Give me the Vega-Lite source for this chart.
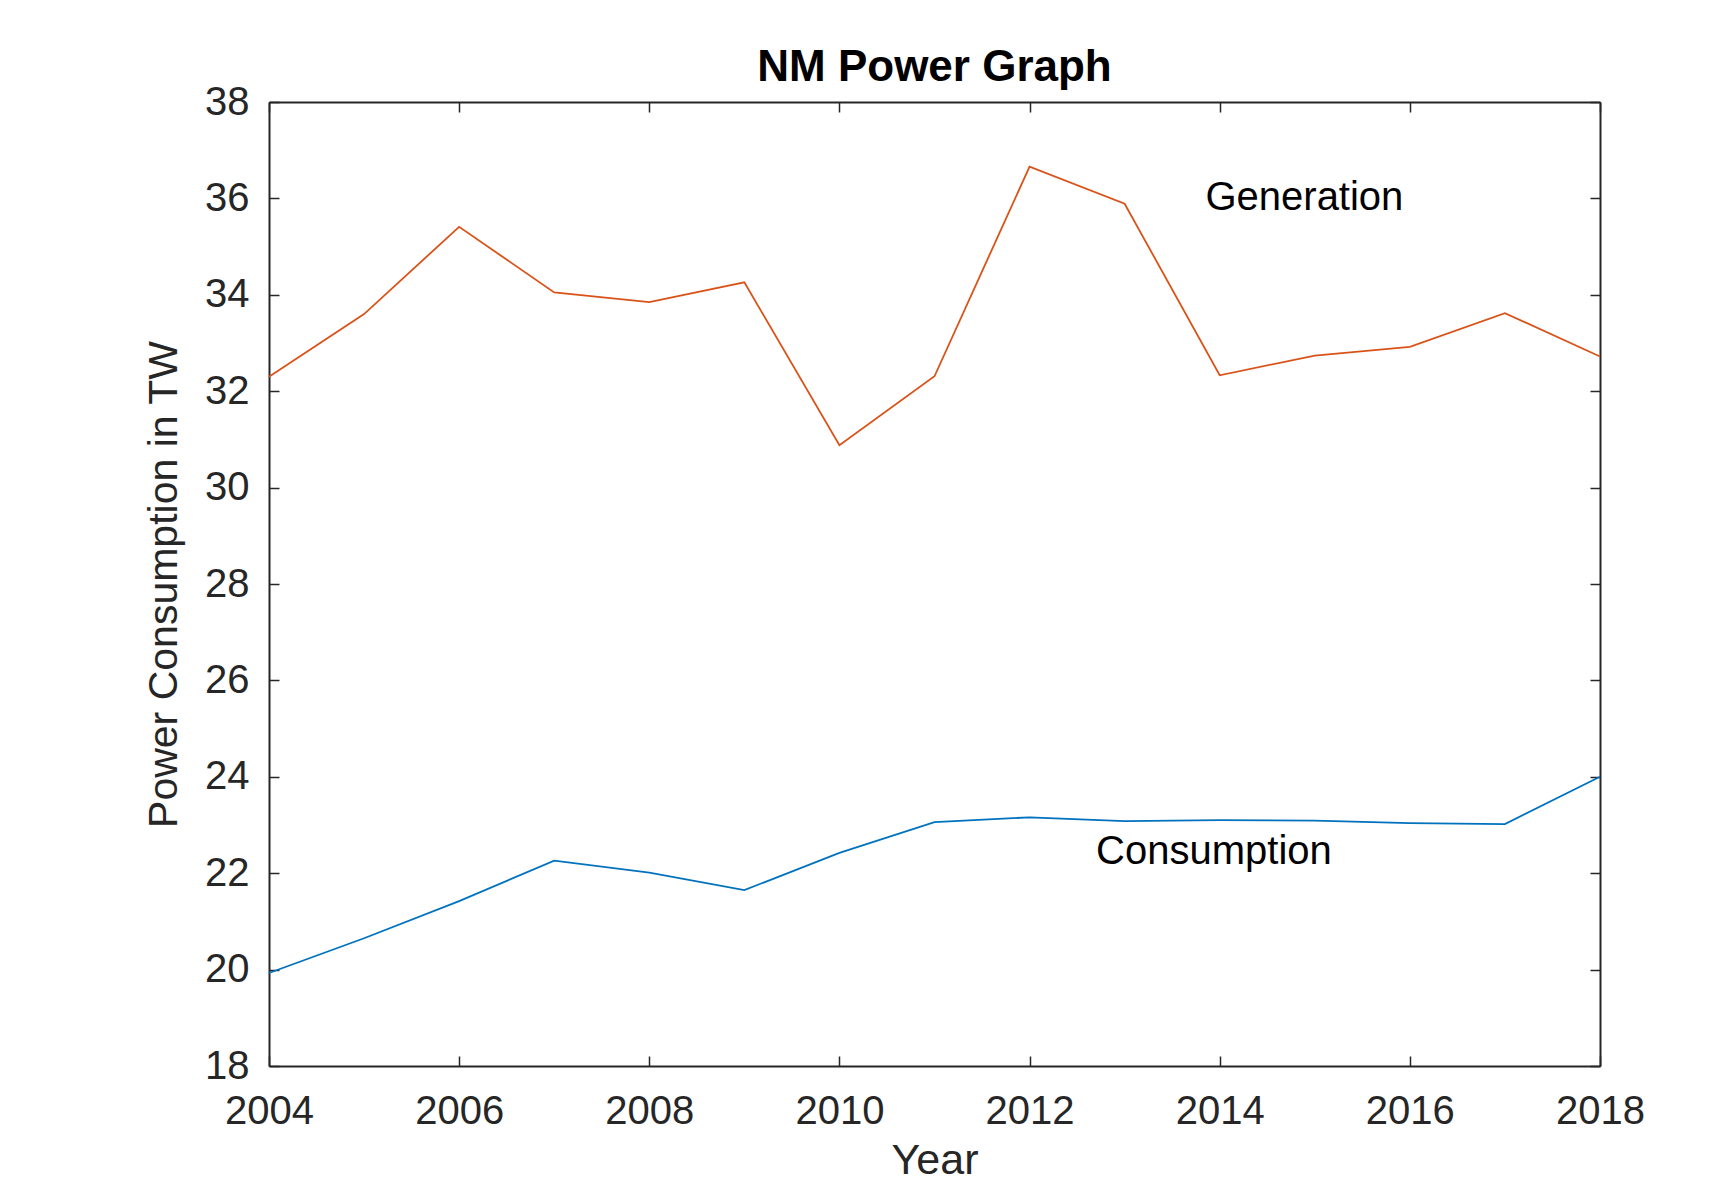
{
  "$schema": "https://vega.github.io/schema/vega-lite/v6.json",
  "width": 1331,
  "height": 964,
  "autosize": {"type": "none"},
  "padding": {"left": 269, "top": 102, "right": 114, "bottom": 118},
  "background": "white",
  "config": {
    "font": "Liberation Sans",
    "view": {"stroke": null},
    "axis": {
      "grid": false,
      "domainColor": "#262626",
      "domainWidth": 2,
      "tickColor": "#262626",
      "tickWidth": 1.5,
      "tickSize": -10,
      "labelColor": "#262626",
      "labelFont": "Liberation Sans",
      "labelFontSize": 40,
      "labelOverlap": false,
      "labelBound": false,
      "labelFlush": false,
      "titleFont": "Liberation Sans",
      "titleFontSize": 41,
      "titleFontWeight": "normal",
      "titleColor": "#262626"
    }
  },
  "title": {
    "text": "NM Power Graph",
    "font": "Liberation Sans",
    "fontSize": 44,
    "fontWeight": "bold",
    "color": "#000000",
    "anchor": "middle",
    "frame": "group",
    "baseline": "alphabetic",
    "offset": 18,
    "dy": 61
  },
  "datasets": {
    "power": [
      {"year": 2004, "series": "Generation", "value": 32.3},
      {"year": 2005, "series": "Generation", "value": 33.6},
      {"year": 2006, "series": "Generation", "value": 35.41},
      {"year": 2007, "series": "Generation", "value": 34.05},
      {"year": 2008, "series": "Generation", "value": 33.85},
      {"year": 2009, "series": "Generation", "value": 34.26},
      {"year": 2010, "series": "Generation", "value": 30.88},
      {"year": 2011, "series": "Generation", "value": 32.31},
      {"year": 2012, "series": "Generation", "value": 36.66},
      {"year": 2013, "series": "Generation", "value": 35.89},
      {"year": 2014, "series": "Generation", "value": 32.33},
      {"year": 2015, "series": "Generation", "value": 32.74},
      {"year": 2016, "series": "Generation", "value": 32.92},
      {"year": 2017, "series": "Generation", "value": 33.62},
      {"year": 2018, "series": "Generation", "value": 32.72},
      {"year": 2004, "series": "Consumption", "value": 19.93},
      {"year": 2005, "series": "Consumption", "value": 20.65},
      {"year": 2006, "series": "Consumption", "value": 21.42},
      {"year": 2007, "series": "Consumption", "value": 22.26},
      {"year": 2008, "series": "Consumption", "value": 22.01},
      {"year": 2009, "series": "Consumption", "value": 21.65},
      {"year": 2010, "series": "Consumption", "value": 22.42},
      {"year": 2011, "series": "Consumption", "value": 23.06},
      {"year": 2012, "series": "Consumption", "value": 23.16},
      {"year": 2013, "series": "Consumption", "value": 23.08},
      {"year": 2014, "series": "Consumption", "value": 23.1},
      {"year": 2015, "series": "Consumption", "value": 23.09},
      {"year": 2016, "series": "Consumption", "value": 23.04},
      {"year": 2017, "series": "Consumption", "value": 23.02},
      {"year": 2018, "series": "Consumption", "value": 24.0}
    ]
  },
  "layer": [
    {
      "data": {"name": "power"},
      "mark": {"type": "line", "strokeWidth": 1.8},
      "encoding": {
        "x": {
          "field": "year", "type": "quantitative",
          "scale": {"domain": [2004, 2018], "nice": false, "zero": false},
          "axis": {"orient": "bottom", "title": "Year", "titleFontSize": 43, "values": [2004, 2006, 2008, 2010, 2012, 2014, 2016, 2018], "format": "d", "labelPadding": 35, "titlePadding": 8}
        },
        "y": {
          "field": "value", "type": "quantitative",
          "scale": {"domain": [18, 38], "nice": false, "zero": false},
          "axis": {"orient": "left", "title": "Power Consumption in TW", "values": [18, 20, 22, 24, 26, 28, 30, 32, 34, 36, 38], "labelPadding": 30, "titlePadding": 19}
        },
        "color": {
          "field": "series", "type": "nominal",
          "scale": {"domain": ["Consumption", "Generation"], "range": ["#0072BD", "#D95319"]},
          "legend": null
        }
      }
    },
    {
      "data": {"values": [{}]},
      "mark": {"type": "text", "text": "Generation", "align": "left", "baseline": "middle", "fontSize": 40, "color": "#000000", "font": "Liberation Sans"},
      "encoding": {
        "x": {"datum": 2013.85, "type": "quantitative", "axis": {"orient": "top", "labels": false, "title": null, "values": [2004, 2006, 2008, 2010, 2012, 2014, 2016, 2018]}},
        "y": {"datum": 36, "type": "quantitative", "axis": {"orient": "right", "labels": false, "title": null, "values": [18, 20, 22, 24, 26, 28, 30, 32, 34, 36, 38]}}
      }
    },
    {
      "data": {"values": [{}]},
      "mark": {"type": "text", "text": "Consumption", "align": "left", "baseline": "middle", "fontSize": 40, "color": "#000000", "font": "Liberation Sans"},
      "encoding": {
        "x": {"datum": 2012.7, "type": "quantitative", "axis": null},
        "y": {"datum": 22.45, "type": "quantitative", "axis": null}
      }
    }
  ],
  "resolve": {"axis": {"x": "independent", "y": "independent"}}
}
